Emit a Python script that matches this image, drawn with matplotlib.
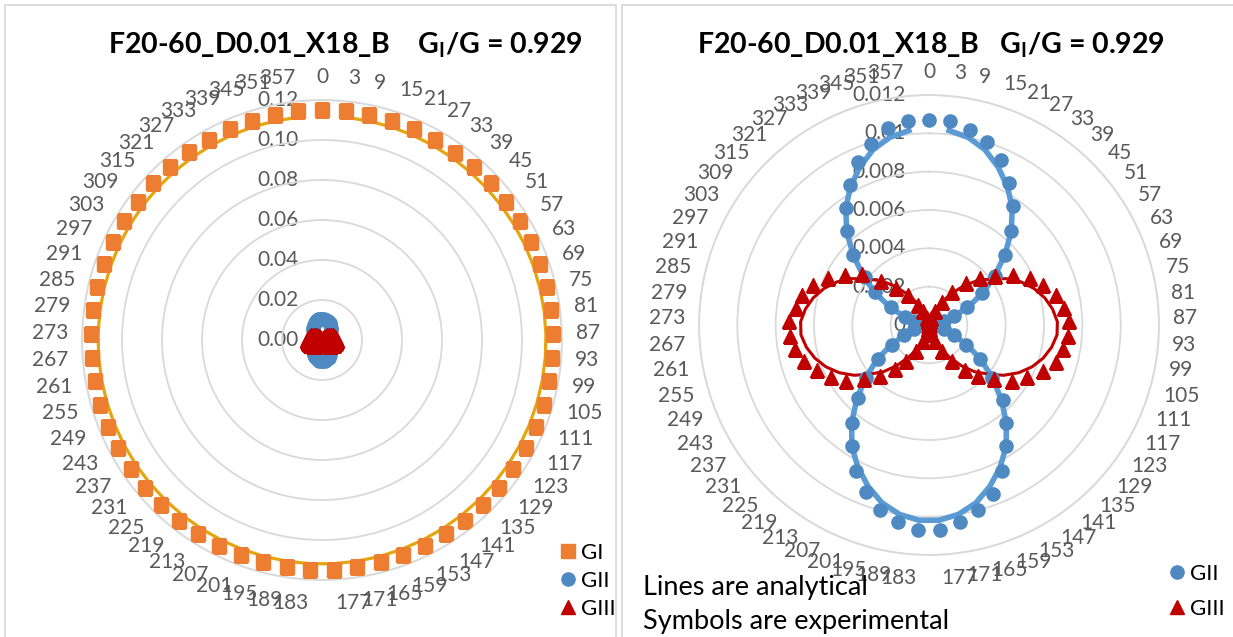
import numpy as np
import matplotlib.pyplot as plt
from matplotlib.patches import Rectangle

plt.rcParams['font.family'] = ['Lato', 'DejaVu Sans']
plt.rcParams['mathtext.fontset'] = 'custom'
plt.rcParams['mathtext.rm'] = 'Lato'
plt.rcParams['mathtext.bf'] = 'Lato:bold'

# crack-front angle categories (deg)
angles = [0, 3, 9, 15, 21, 27, 33, 39, 45, 51, 57, 63, 69, 75, 81, 87, 93, 99,
          105, 111, 117, 123, 129, 135, 141, 147, 153, 159, 165, 171, 177, 183,
          189, 195, 201, 207, 213, 219, 225, 231, 237, 243, 249, 255, 261, 267,
          273, 279, 285, 291, 297, 303, 309, 315, 321, 327, 333, 339, 345, 351,
          357]

# experimental values (symbols)
gi_exp = [0.1150, 0.1150, 0.1150, 0.1151, 0.1151, 0.1150, 0.1150, 0.1151,
          0.1152, 0.1152, 0.1153, 0.1153, 0.1154, 0.1155, 0.1155, 0.1155,
          0.1155, 0.1155, 0.1154, 0.1154, 0.1153, 0.1153, 0.1152, 0.1152,
          0.1151, 0.1151, 0.1150, 0.1150, 0.1150, 0.1150, 0.1150, 0.1150,
          0.1150, 0.1150, 0.1150, 0.1151, 0.1151, 0.1152, 0.1152, 0.1153,
          0.1153, 0.1154, 0.1154, 0.1155, 0.1155, 0.1155, 0.1155, 0.1155,
          0.1155, 0.1154, 0.1154, 0.1153, 0.1153, 0.1152, 0.1152, 0.1151,
          0.1151, 0.1150, 0.1150, 0.1150, 0.1150]
gii_exp = [0.0107, 0.0107, 0.0104, 0.0100, 0.0094, 0.0085, 0.0076, 0.0065,
           0.0054, 0.0043, 0.0032, 0.0022, 0.0014, 0.0008, 0.0003, 0.0001,
           0.0001, 0.0003, 0.0008, 0.0014, 0.0022, 0.0032, 0.0043, 0.0055,
           0.0065, 0.0075, 0.0085, 0.0094, 0.0100, 0.0104, 0.0107, 0.0107,
           0.0104, 0.0100, 0.0093, 0.0085, 0.0075, 0.0065, 0.0053, 0.0043,
           0.0032, 0.0022, 0.0014, 0.0008, 0.0003, 0.0001, 0.0001, 0.0003,
           0.0008, 0.0013, 0.0022, 0.0033, 0.0042, 0.0054, 0.0065, 0.0075,
           0.0084, 0.0093, 0.0099, 0.0105, 0.0107]
giii_exp = [0.0000, 0.0001, 0.0002, 0.0004, 0.0008, 0.0014, 0.0021, 0.0029,
            0.0036, 0.0043, 0.0051, 0.0058, 0.0063, 0.0068, 0.0071, 0.0073,
            0.0073, 0.0071, 0.0069, 0.0064, 0.0058, 0.0052, 0.0044, 0.0037,
            0.0030, 0.0022, 0.0015, 0.0009, 0.0005, 0.0002, 0.0001, 0.0001,
            0.0002, 0.0005, 0.0009, 0.0015, 0.0022, 0.0029, 0.0037, 0.0044,
            0.0052, 0.0058, 0.0063, 0.0068, 0.0071, 0.0073, 0.0073, 0.0070,
            0.0068, 0.0064, 0.0058, 0.0051, 0.0044, 0.0034, 0.0026, 0.0019,
            0.0012, 0.0008, 0.0004, 0.0002, 0.0001]

# analytical values (lines), no value at 0 deg
gi_ana = [None] + [0.1120] * 60
gii_ana = [None, 0.0102, 0.0100, 0.0096, 0.0090, 0.0083, 0.0075, 0.0065,
           0.0054, 0.0043, 0.0033, 0.0023, 0.0014, 0.0007, 0.0003, 0.0000,
           0.0000, 0.0003, 0.0007, 0.0014, 0.0023, 0.0033, 0.0043, 0.0054,
           0.0065, 0.0075, 0.0083, 0.0090, 0.0096, 0.0100, 0.0102, 0.0102,
           0.0100, 0.0096, 0.0090, 0.0083, 0.0075, 0.0065, 0.0054, 0.0043,
           0.0033, 0.0023, 0.0014, 0.0007, 0.0003, 0.0000, 0.0000, 0.0003,
           0.0007, 0.0014, 0.0023, 0.0033, 0.0043, 0.0054, 0.0065, 0.0075,
           0.0083, 0.0090, 0.0096, 0.0100, 0.0102]
giii_ana = [None, 0.0000, 0.0002, 0.0004, 0.0009, 0.0014, 0.0020, 0.0027,
            0.0034, 0.0040, 0.0047, 0.0053, 0.0058, 0.0062, 0.0065, 0.0067,
            0.0067, 0.0065, 0.0062, 0.0058, 0.0053, 0.0047, 0.0040, 0.0034,
            0.0027, 0.0020, 0.0014, 0.0009, 0.0004, 0.0002, 0.0000, 0.0000,
            0.0002, 0.0004, 0.0009, 0.0014, 0.0020, 0.0027, 0.0034, 0.0040,
            0.0047, 0.0053, 0.0058, 0.0062, 0.0065, 0.0067, 0.0067, 0.0065,
            0.0062, 0.0058, 0.0053, 0.0047, 0.0040, 0.0034, 0.0027, 0.0020,
            0.0014, 0.0009, 0.0004, 0.0002, 0.0000]

left_ticks = [0.0, 0.02, 0.04, 0.06, 0.08, 0.10, 0.12]
left_tick_labels = ['0.00', '0.02', '0.04', '0.06', '0.08', '0.10', '0.12']
right_ticks = [0.0, 0.002, 0.004, 0.006, 0.008, 0.010, 0.012]
right_tick_labels = ['0', '0.002', '0.004', '0.006', '0.008', '0.01', '0.012']

left_title = r'F20-60_D0.01_X18_B    G$_{\mathbf{I}}$/G = 0.929'
right_title = r'F20-60_D0.01_X18_B   G$_{\mathbf{I}}$/G = 0.929'

c_gi = '#ED7D31'
c_gi_line = '#E6A50C'
c_gii = '#4E89C2'
c_gii_line = '#5B9BD5'
c_giii = '#C00000'
grid_c = '#D9D9D9'
text_c = '#595959'

W, H = 1233, 637
fig = plt.figure(figsize=(W / 100, H / 100), dpi=100)

# Excel-like chart borders
fig.add_artist(Rectangle((5 / W, -0.05), 611 / W, 1.05 - 5 / H,
                         transform=fig.transFigure, fill=False,
                         ec=grid_c, lw=1.3))
fig.add_artist(Rectangle((622 / W, -0.05), 0.6, 1.05 - 5 / H,
                         transform=fig.transFigure, fill=False,
                         ec=grid_c, lw=1.3))

theta = np.arange(len(angles)) * 2 * np.pi / len(angles)


def to_arr(vals):
    return np.array([np.nan if v is None else v for v in vals], dtype=float)


def setup(ax, ticks, tick_labels):
    ax.set_theta_zero_location('N')
    ax.set_theta_direction(-1)
    ax.set_ylim(0, ticks[-1])
    ax.set_yticks(ticks)
    ax.set_yticklabels([])
    ax.set_xticks([])
    ax.yaxis.grid(True, color=grid_c, lw=1.3)
    ax.spines['polar'].set_color(grid_c)
    ax.spines['polar'].set_linewidth(1.3)
    # value labels left of the vertical axis
    for v, lab in zip(ticks, tick_labels):
        ax.annotate(lab, xy=(0, v), xytext=(-17, 0),
                    textcoords='offset points', ha='right', va='center',
                    color=text_c, fontsize=15, zorder=1.5)
    # category labels: near edge sits just outside the ring
    gap, half_h = 10, 6.5
    for t, a in zip(theta, angles):
        s, c = np.sin(t), np.cos(t)
        if s > 0.01:
            ha = 'left'
        elif s < -0.01:
            ha = 'right'
        else:
            ha = 'center'
        ax.annotate(str(a), xy=(t, ticks[-1]),
                    xytext=(gap * s, gap * c + half_h * c),
                    textcoords='offset points', ha=ha, va='center',
                    color=text_c, fontsize=15, annotation_clip=False)


# left chart: all three modes
ax1 = fig.add_axes([(322 - 240) / W, (637 - 340 - 240) / H, 480 / W, 480 / H],
                   projection='polar')
setup(ax1, left_ticks, left_tick_labels)
ax1.plot(theta, to_arr(gi_ana), color=c_gi_line, lw=2.3, zorder=2)
ax1.plot(theta, to_arr(gii_ana), color=c_gii_line, lw=3.5, zorder=2)
ax1.plot(theta, to_arr(giii_ana), color=c_giii, lw=2.2, zorder=2)
ax1.plot(theta, gi_exp, 's', color=c_gi, ms=10, zorder=3, label='GI')
ax1.plot(theta, gii_exp, 'o', color=c_gii, ms=9.5, zorder=3, label='GII')
ax1.plot(theta, giii_exp, '^', color=c_giii, ms=10, zorder=4, label='GIII')
ax1.legend(loc='upper left', bbox_to_anchor=(548 / W, 1 - 532 / H),
           bbox_transform=fig.transFigure, frameon=False, fontsize=16,
           handlelength=0.8, handletextpad=0.2, labelspacing=0.35,
           borderpad=0)

# right chart: shear modes only
ax2 = fig.add_axes([(929 - 230) / W, (637 - 325 - 230) / H, 460 / W, 460 / H],
                   projection='polar')
setup(ax2, right_ticks, right_tick_labels)
ax2.plot(theta, to_arr(gii_ana), color=c_gii_line, lw=4, zorder=2)
ax2.plot(theta, to_arr(giii_ana), color=c_giii, lw=2.2, zorder=2)
ax2.plot(theta, gii_exp, 'o', color=c_gii, ms=9.5, zorder=3, label='GII')
ax2.plot(theta, giii_exp, '^', color=c_giii, ms=10, zorder=4, label='GIII')
ax2.legend(loc='upper left', bbox_to_anchor=(1157 / W, 1 - 553 / H),
           bbox_transform=fig.transFigure, frameon=False, fontsize=16,
           handlelength=0.8, handletextpad=0.2, labelspacing=0.65,
           borderpad=0)

fig.text(345 / W, 1 - 45 / H, left_title, fontsize=20.5, fontweight='bold',
         ha='center', va='center')
fig.text(931 / W, 1 - 45 / H, right_title, fontsize=20.5, fontweight='bold',
         ha='center', va='center')

fig.text(643 / W, 1 - 587 / H, 'Lines are analytical', fontsize=19.5,
         va='center', ha='left', color='black')
fig.text(643 / W, 1 - 622 / H, 'Symbols are experimental', fontsize=19.5,
         va='center', ha='left', color='black')

fig.savefig('out.png', dpi=100)
